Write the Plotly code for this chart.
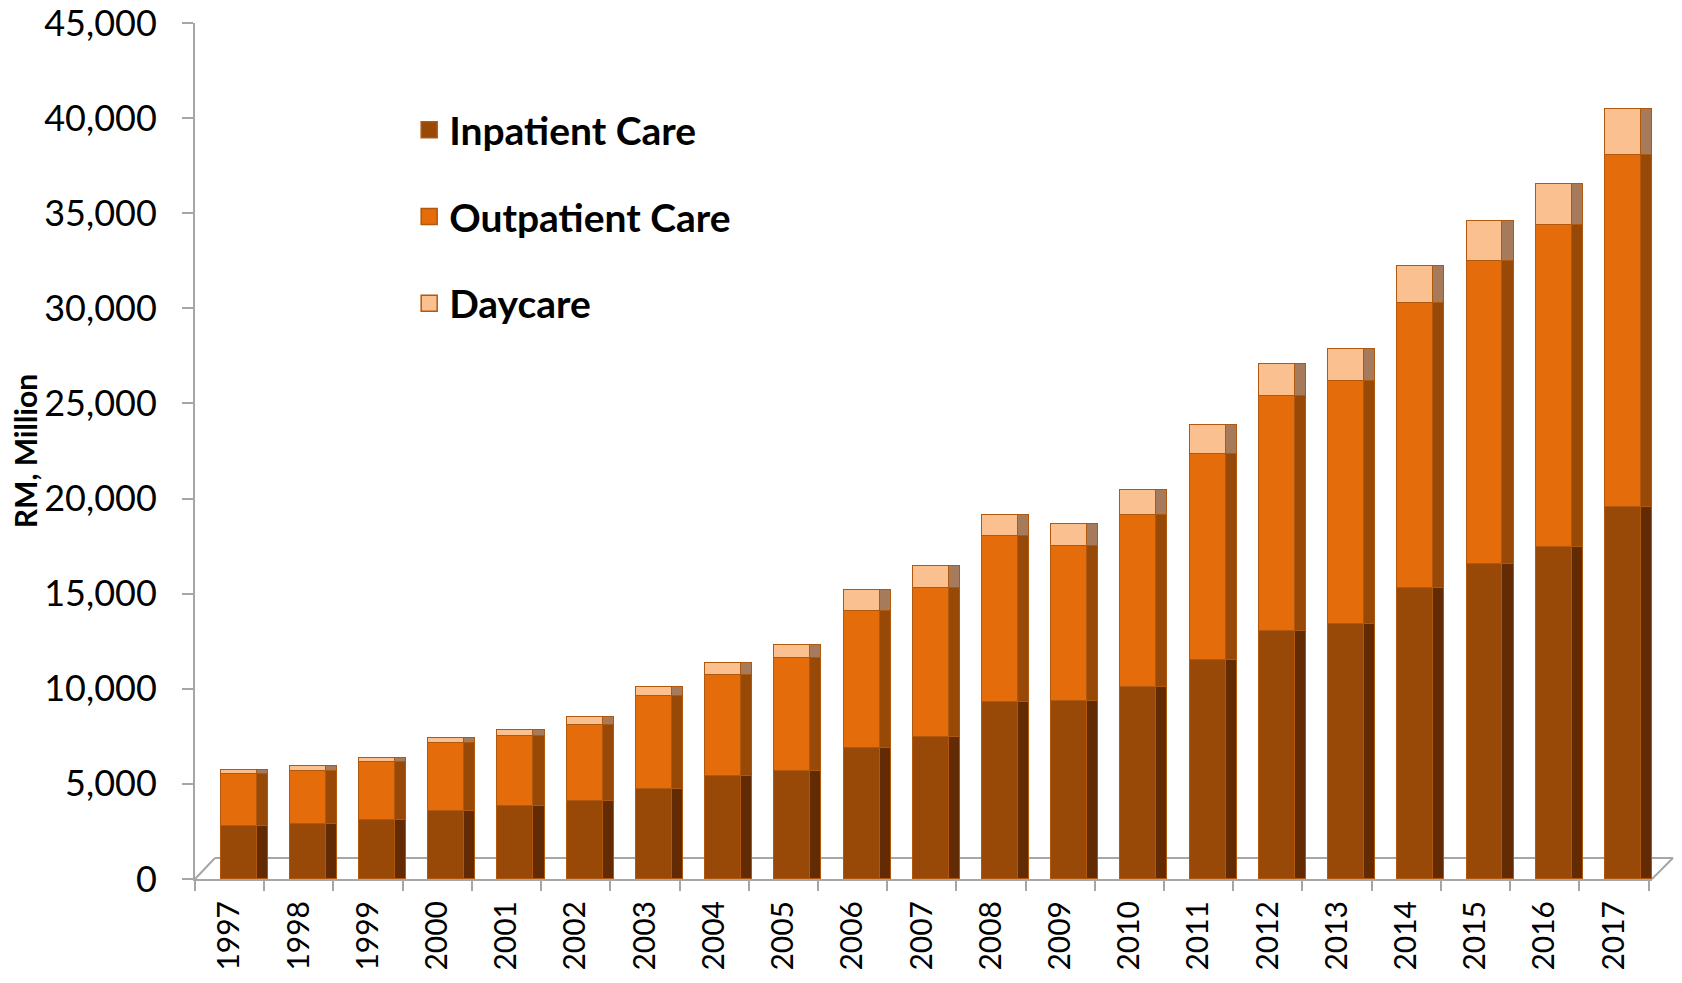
import plotly.graph_objects as go

# ---------------- data (RM, Million) ----------------
years = [str(y) for y in range(1997, 2018)]
inpatient = [2810, 2890, 3110, 3560, 3820, 4120, 4750, 5390, 5700, 6880, 7490,
             9300, 9350, 10120, 11530, 13020, 13420, 15320, 16540, 17460, 19550]
outpatient = [2720, 2810, 3030, 3580, 3720, 4000, 4850, 5360, 5930, 7190, 7790,
              8740, 8140, 9000, 10820, 12380, 12760, 14940, 15950, 16930, 18520]
daycare = [210, 250, 230, 280, 270, 390, 490, 600, 690, 1110, 1160,
           1120, 1190, 1320, 1540, 1670, 1660, 1990, 2110, 2150, 2420]
series_names = ["Inpatient Care", "Outpatient Care", "Daycare"]
series_values = [inpatient, outpatient, daycare]
y_ticks = list(range(0, 45001, 5000))
y_title = "RM, Million"

# ---------------- styles ----------------
FONT = "Lato, 'Open Sans', sans-serif"
front_colors = ["#984807", "#E46C0A", "#FAC090"]
side_colors = ["#632B04", "#984807", "#A57B5B"]
edge_color = "#B0580E"
axis_grey = "#A6A6A6"

fig = go.Figure()

# side faces (pseudo-3D), drawn on an overlaid category axis so they stack separately
for name, vals, col in zip(series_names, series_values, side_colors):
    fig.add_trace(go.Bar(
        x=years, y=vals, name=name, xaxis="x2", yaxis="y",
        width=0.16, offset=0.39,
        marker=dict(color=col, line=dict(color=edge_color, width=1)),
        showlegend=False, hoverinfo="skip",
    ))

# front faces
for name, vals, col in zip(series_names, series_values, front_colors):
    fig.add_trace(go.Bar(
        x=years, y=vals, name=name,
        width=0.52, offset=-0.13,
        marker=dict(color=col, line=dict(color=edge_color, width=1.5)),
        showlegend=False,
    ))

# legend entries with larger square swatches
for i, (name, col) in enumerate(zip(series_names, front_colors)):
    fig.add_trace(go.Scatter(
        x=[None], y=[None], mode="markers", name="<b>" + name + "</b>",
        legendgroup="g%d" % i,
        marker=dict(symbol="square", size=16, color=col,
                    line=dict(color=edge_color, width=1.5)),
    ))

# pseudo-3D floor outline (decoration, paper coordinates)
floor = [
    dict(x0=0.0, y0=0.0, x1=0.0137, y1=0.0245),
    dict(x0=0.0137, y0=0.0245, x1=1.0144, y1=0.0245),
    dict(x0=1.0, y0=0.0, x1=1.0144, y1=0.0245),
]
shapes = [dict(type="line", xref="paper", yref="paper", layer="below",
               line=dict(color=axis_grey, width=2), **f) for f in floor]

xrange = [-0.5, 20.55]
fig.update_layout(
    width=1682, height=983,
    barmode="stack",
    bargap=0,
    paper_bgcolor="white", plot_bgcolor="rgba(0,0,0,0)",
    margin=dict(l=187, r=38, t=15, b=112),
    font=dict(family=FONT, color="black"),
    showlegend=True,
    legend=dict(
        x=0.147, y=0.9125, xanchor="left", yanchor="top",
        traceorder="grouped", tracegroupgap=33,
        font=dict(family=FONT, size=39, color="black"),
        bgcolor="rgba(0,0,0,0)", itemsizing="trace",
    ),
    xaxis=dict(
        type="category", categoryorder="array", categoryarray=years,
        range=xrange, tickangle=-90, automargin=False,
        tickfont=dict(family=FONT, size=30, color="black"),
        showline=True, linecolor=axis_grey, linewidth=2,
        ticks="outside", ticklen=10, tickcolor=axis_grey, tickwidth=2,
        tickson="boundaries", ticklabelstandoff=8,
        showgrid=False, zeroline=False,
    ),
    xaxis2=dict(
        type="category", categoryorder="array", categoryarray=years,
        range=xrange, overlaying="x", visible=False,
    ),
    yaxis=dict(
        range=[0, 45000], tickvals=y_ticks, tickformat=",", automargin=False,
        ticklabeloverflow="allow",
        tickfont=dict(family=FONT, size=36, color="black"),
        showline=True, linecolor=axis_grey, linewidth=2,
        ticks="outside", ticklen=11, tickcolor=axis_grey, tickwidth=2,
        ticklabelstandoff=18,
        showgrid=False, zeroline=False,
    ),
    shapes=shapes,
    annotations=[dict(
        text="<b>" + y_title + "</b>", textangle=-90,
        xref="paper", yref="paper", x=-0.1165, y=0.5,
        xanchor="center", yanchor="middle", showarrow=False,
        font=dict(family=FONT, size=30, color="black"),
    )],
)

fig.write_html("out.html")
